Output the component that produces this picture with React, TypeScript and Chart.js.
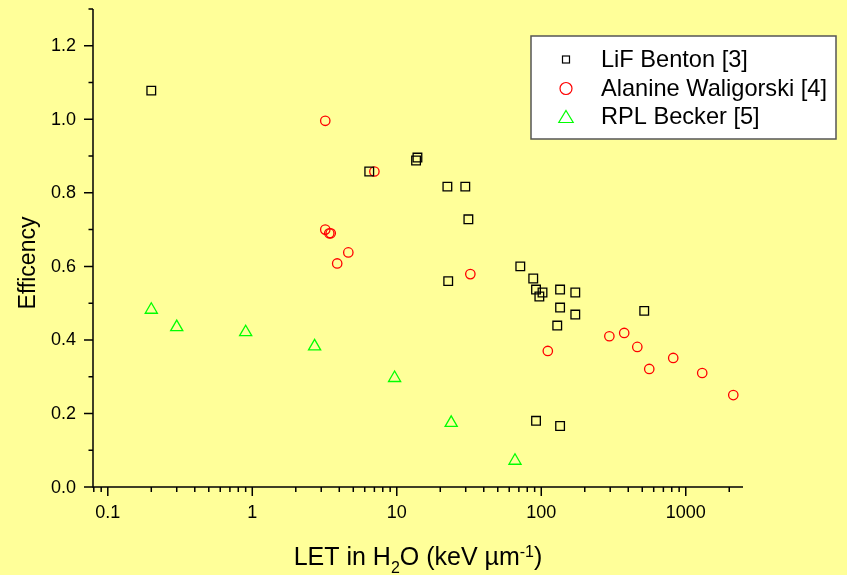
import React, { useEffect, useRef } from 'react';
import { Chart, registerables } from 'chart.js';

Chart.register(...registerables);

// ---- Data (LET in keV/µm, efficiency) ----
const lifLET = [0.2, 6.45, 13.9, 13.6, 22.4, 29.8, 31.3, 22.7, 71.6, 88, 92, 102, 97, 135, 172, 135, 172, 129, 516, 92, 135];
const lifEff = [1.078, 0.858, 0.896, 0.888, 0.817, 0.817, 0.728, 0.56, 0.6, 0.567, 0.537, 0.529, 0.518, 0.537, 0.529, 0.488, 0.469, 0.439, 0.479, 0.18, 0.166];

const alaLET = [3.2, 7.0, 3.2, 3.41, 3.49, 4.62, 3.87, 32.3, 111, 296, 375, 462, 559, 819, 1300, 2133];
const alaEff = [0.996, 0.858, 0.7, 0.69, 0.69, 0.638, 0.608, 0.579, 0.37, 0.41, 0.419, 0.381, 0.321, 0.351, 0.31, 0.25];

const rplLET = [0.2, 0.3, 0.9, 2.7, 9.66, 23.8, 65.8];
const rplEff = [0.482, 0.435, 0.421, 0.3825, 0.2965, 0.1745, 0.0714];

const seriesLabels = ['LiF Benton [3]', 'Alanine Waligorski [4]', 'RPL Becker [5]'];

const yTicks = [0, 0.2, 0.4, 0.6, 0.8, 1.0, 1.2];
const yMinorTicks = [0.1, 0.3, 0.5, 0.7, 0.9, 1.1, 1.3];
const xTicks = [0.1, 1, 10, 100, 1000];
const xTickLabels = ['0.1', '1', '10', '100', '1000'];
const xMinorTicks = [0.08, 0.09, 0.2, 0.3, 0.4, 0.5, 0.6, 0.7, 0.8, 0.9, 2, 3, 4, 5, 6, 7, 8, 9, 20, 30, 40, 50, 60, 70, 80, 90, 200, 300, 400, 500, 600, 700, 800, 900, 2000];

const yTitle = 'Efficency';

const FONT = '"Liberation Sans", Arial, Helvetica, sans-serif';
const BG = '#FFFF99';
const C_SQ = '#000000';
const C_CI = '#FF0000';
const C_TR = '#00FF00';

const toPts = (xs: number[], ys: number[]) => xs.map((x, i) => ({ x, y: ys[i] }));

const decorPlugin = {
  id: 'decor',
  afterDraw(chart: any) {
    const ctx: CanvasRenderingContext2D = chart.ctx;
    const xs = chart.scales.x;
    const ys = chart.scales.y;
    const { left, right, top, bottom } = chart.chartArea;
    ctx.save();
    ctx.strokeStyle = '#000';
    ctx.fillStyle = '#000';
    ctx.lineWidth = 1.5;
    // axis lines
    ctx.beginPath();
    ctx.moveTo(left, top);
    ctx.lineTo(left, bottom);
    ctx.lineTo(right, bottom);
    ctx.stroke();
    // y ticks
    ctx.beginPath();
    for (const v of yTicks) {
      const p = ys.getPixelForValue(v);
      ctx.moveTo(left - 9, p);
      ctx.lineTo(left, p);
    }
    for (const v of yMinorTicks) {
      const p = ys.getPixelForValue(v);
      ctx.moveTo(left - 4.5, p);
      ctx.lineTo(left, p);
    }
    // x ticks
    for (const v of xTicks) {
      const p = xs.getPixelForValue(v);
      ctx.moveTo(p, bottom);
      ctx.lineTo(p, bottom + 9);
    }
    for (const v of xMinorTicks) {
      const p = xs.getPixelForValue(v);
      ctx.moveTo(p, bottom);
      ctx.lineTo(p, bottom + 5);
    }
    ctx.stroke();

    // tick labels
    ctx.font = `18px ${FONT}`;
    ctx.textBaseline = 'alphabetic';
    ctx.textAlign = 'right';
    for (const v of yTicks) {
      const p = ys.getPixelForValue(v);
      ctx.fillText(v.toFixed(1), left - 17, p + 5.5);
    }
    ctx.textAlign = 'center';
    xTicks.forEach((v, i) => {
      const p = xs.getPixelForValue(v);
      ctx.fillText(xTickLabels[i], p, bottom + 30.5);
    });

    // y title
    ctx.save();
    ctx.font = `23px ${FONT}`;
    ctx.translate(35, 263);
    ctx.rotate(-Math.PI / 2);
    ctx.textAlign = 'center';
    ctx.textBaseline = 'alphabetic';
    ctx.fillText(yTitle, 0, 0);
    ctx.restore();

    // x title with sub/superscripts
    const big = `25px ${FONT}`;
    const small = `16px ${FONT}`;
    const parts: { t: string; f: string; dy: number }[] = [
      { t: 'LET in H', f: big, dy: 0 },
      { t: '2', f: small, dy: 8.5 },
      { t: 'O (keV \u00B5m', f: big, dy: 0 },
      { t: '-1', f: small, dy: -7.5 },
      { t: ')', f: big, dy: 0 },
    ];
    let total = 0;
    for (const pt of parts) {
      ctx.font = pt.f;
      total += ctx.measureText(pt.t).width;
    }
    const cx = (left + right) / 2;
    let x0 = cx - total / 2;
    const base = 564.5;
    ctx.textAlign = 'left';
    for (const pt of parts) {
      ctx.font = pt.f;
      ctx.fillText(pt.t, x0, base + pt.dy);
      x0 += ctx.measureText(pt.t).width;
    }

    // legend
    const lx = 531, ly = 36, lw = 305, lh = 103;
    ctx.fillStyle = '#FFFFFF';
    ctx.fillRect(lx, ly, lw, lh);
    ctx.strokeStyle = '#555555';
    ctx.lineWidth = 1.5;
    ctx.strokeRect(lx, ly, lw, lh);
    const rows = [59.5, 88.5, 116.5];
    const mx = 566;
    ctx.lineWidth = 1.2;
    // square
    ctx.strokeStyle = C_SQ;
    ctx.strokeRect(mx - 3.5, rows[0] - 3.5, 7, 7);
    // circle
    ctx.strokeStyle = C_CI;
    ctx.beginPath();
    ctx.arc(mx, rows[1], 6, 0, Math.PI * 2);
    ctx.stroke();
    // triangle
    ctx.strokeStyle = C_TR;
    ctx.beginPath();
    ctx.moveTo(mx, rows[2] - 6);
    ctx.lineTo(mx + 7.2, rows[2] + 6);
    ctx.lineTo(mx - 7.2, rows[2] + 6);
    ctx.closePath();
    ctx.stroke();
    ctx.fillStyle = '#000';
    ctx.font = `23.6px ${FONT}`;
    ctx.textAlign = 'left';
    ctx.textBaseline = 'middle';
    seriesLabels.forEach((s, i) => ctx.fillText(s, 601, rows[i] + 1));
    ctx.restore();
  },
};

export default function App() {
  const ref = useRef<HTMLCanvasElement>(null);
  useEffect(() => {
    document.body.style.margin = '0';
    document.body.style.background = BG;
    const canvas = ref.current;
    if (!canvas) return;
    const chart = new Chart(canvas, {
      type: 'scatter',
      data: {
        datasets: [
          {
            label: seriesLabels[0],
            data: toPts(lifLET, lifEff),
            pointStyle: 'rect',
            pointRadius: 6.1,
            borderColor: C_SQ,
            backgroundColor: 'transparent',
            pointBorderWidth: 1.3,
          },
          {
            label: seriesLabels[1],
            data: toPts(alaLET, alaEff),
            pointStyle: 'circle',
            pointRadius: 4.7,
            borderColor: C_CI,
            backgroundColor: 'transparent',
            pointBorderWidth: 1.3,
          },
          {
            label: seriesLabels[2],
            data: toPts(rplLET, rplEff),
            pointStyle: 'triangle',
            pointRadius: 7,
            borderColor: C_TR,
            backgroundColor: 'transparent',
            pointBorderWidth: 1.3,
          },
        ],
      },
      options: {
        animation: false,
        responsive: false,
        devicePixelRatio: 1,
        events: [],
        layout: { padding: { top: 9, right: 104, bottom: 0, left: 0 } },
        plugins: {
          legend: { display: false },
          tooltip: { enabled: false },
          title: { display: false },
        },
        scales: {
          x: {
            type: 'logarithmic',
            min: 0.079,
            max: 2490,
            grid: { display: false },
            border: { display: false },
            ticks: { display: false },
            afterFit: (s: any) => {
              s.height = 88;
            },
          },
          y: {
            type: 'linear',
            min: 0,
            max: 1.3,
            grid: { display: false },
            border: { display: false },
            ticks: { display: false },
            afterFit: (s: any) => {
              s.width = 93;
            },
          },
        },
      } as any,
      plugins: [decorPlugin],
    });
    return () => chart.destroy();
  }, []);
  return (
    <div style={{ width: 847, height: 575, background: BG }}>
      <canvas ref={ref} width={847} height={575} style={{ display: 'block' }} />
    </div>
  );
}
